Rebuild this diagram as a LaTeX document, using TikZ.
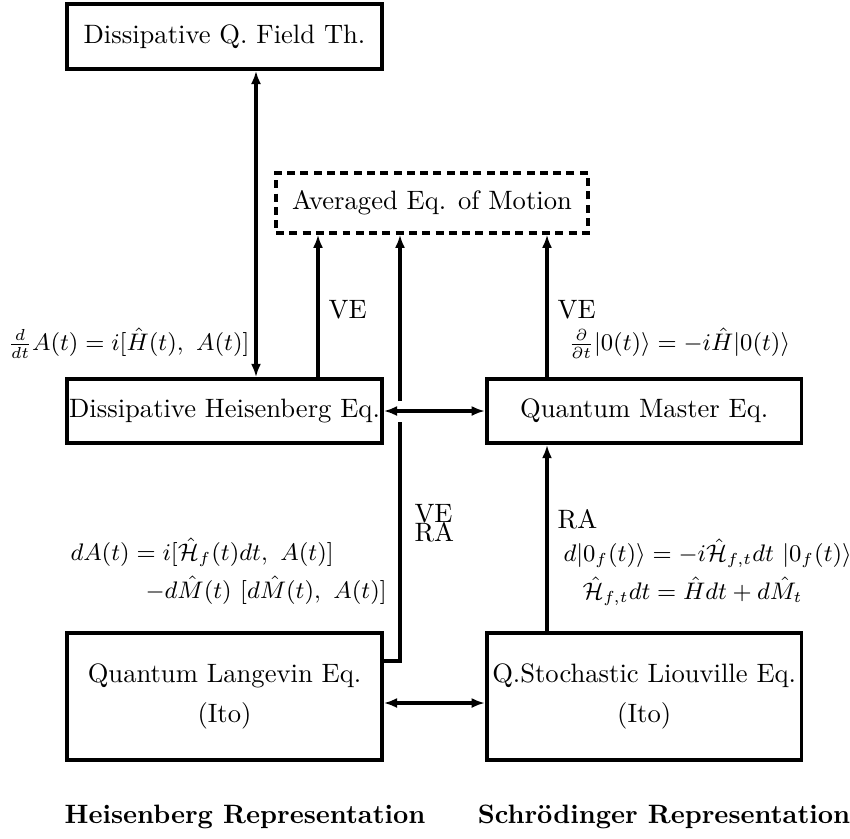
\documentclass[tikz,border=0pt]{standalone}
\usetikzlibrary{arrows.meta, positioning, calc}

\begin{document}
\begin{tikzpicture}[
  x=0.376pt, y=-0.376pt,
  every node/.style={font=\normalsize},
  eqbox/.style={rectangle, draw, line width=1.4pt, minimum width=118.4pt,
                minimum height=24.1pt, inner sep=0.5pt, align=center},
  tallbox/.style={eqbox, minimum height=47.8pt},
  avgbox/.style={eqbox, dash pattern=on 3pt off 2pt, line width=1.2pt,
                 minimum width=117.3pt, minimum height=22.6pt},
  lbl/.style={inner sep=0pt, font=\fontsize{9.2}{11}\selectfont},
  arr/.style={-{Latex[length=5pt,width=3.8pt]}, line width=1.4pt},
  dbl/.style={{Latex[length=5pt,width=3.8pt]}-{Latex[length=5pt,width=3.8pt]},
              line width=1.4pt},
]
\useasboundingbox (0,0) rectangle (850,838);

% boxes
\node[eqbox] (heis) at (224.5,411) {Dissipative Heisenberg Eq.};
\node[eqbox, right=38pt of heis] (master) {Quantum Master Eq.};
\node[tallbox, below=70pt of heis] (lang) {Quantum Langevin Eq.\\[3pt](Ito)};
\node[tallbox, right=38pt of lang] (liou) {Q.Stochastic Liouville Eq.\\[3pt](Ito)};
\node[eqbox, minimum height=24.4pt] (ft) at (224.5,36.5) {Dissipative Q. Field Th.};
\node[avgbox] (avg) at (432,203) {Averaged Eq. of Motion};

% helper coordinates
\coordinate (xq) at (256,0);
\coordinate (xv) at (318,0);
\coordinate (xr) at (547,0);
\coordinate (yl) at (0,661);
\coordinate (yb) at (0,703);
\coordinate (gaplo) at (400,422);
\coordinate (gaphi) at (400,401);

% connectors
\draw[dbl] (ft.south -| xq) -- (heis.north -| xq);
\draw[arr] (heis.north -| xv) -- node[right, pos=0.47] (ve1) {VE} (avg.south -| xv);
\draw[arr] (master.north -| xr) -- node[right, pos=0.47] (ve2) {VE} (avg.south -| xr);
\draw[dbl] (heis) -- (master);
\draw[dbl] (lang.east |- yb) -- (liou.west |- yb);
\draw[arr] (liou.north -| xr) -- node[right, pos=0.6] (ra) {RA} (master.south -| xr);
\draw[line width=1.4pt] (lang.east |- yl) -| (gaplo);
\draw[arr] (gaphi) -- (avg.south -| gaphi);
\node[inner sep=0pt, anchor=west, align=left] (vera) at (414,523) {VE\\[-4.8pt]RA};

% equations
\node[lbl, anchor=east] (eqH) at (250,343) {$\frac{d}{dt}A(t)=i[\hat H(t),\ A(t)]$};
\node[lbl, anchor=west] (eqS) at (568,343)
  {$\frac{\partial}{\partial t}|0(t)\rangle=-i\hat H|0(t)\rangle$};
\node[lbl, anchor=west] (eqL1) at (70,552) {$dA(t)=i[\hat{\mathcal H}_f(t)dt,\ A(t)]$};
\node[lbl, anchor=west] (eqL2) at (145,590) {$-d\hat M(t)\ [d\hat M(t),\ A(t)]$};
\node[lbl, anchor=west] (eqQ1) at (563,553)
  {$d|0_f(t)\rangle=-i\hat{\mathcal H}_{f,t}dt\ |0_f(t)\rangle$};
\node[lbl, anchor=west] (eqQ2) at (582,591) {$\hat{\mathcal H}_{f,t}dt=\hat H dt+d\hat M_t$};

% representations
\node[font=\bfseries] (hrep) at (245,817) {Heisenberg Representation};
\node[font=\bfseries] (srep) at (664,817) {Schr\"odinger Representation};
\end{tikzpicture}
\end{document}
